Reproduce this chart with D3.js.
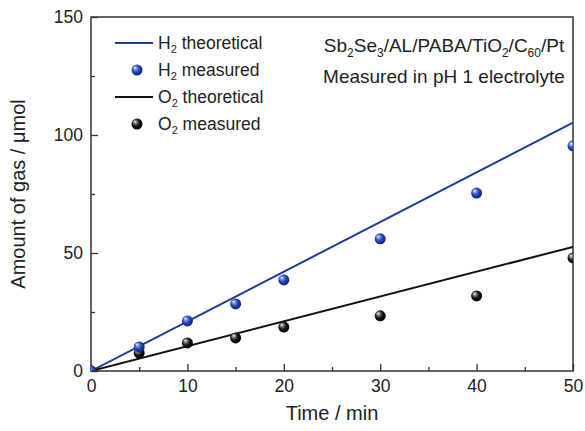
<!DOCTYPE html>
<html>
<head>
<meta charset="utf-8">
<script src="https://cdn.jsdelivr.net/npm/d3@7"></script>
<style>
    html, body { margin: 0; padding: 0; background: #fff; }
    svg { display: block; font-family: "Liberation Sans", Arial, Helvetica, sans-serif; }
</style>
</head>
<body>
<div id="chart"></div>
<script>
// Data
const measuredTime = [0, 5, 10, 15, 20, 30, 40, 50];
const h2Measured = [0, 10.2, 21.2, 28.4, 38.6, 56.0, 75.4, 95.4];
const o2Measured = [0, 7.6, 11.9, 14.0, 18.6, 23.4, 31.8, 47.9];
const theoryTime = [0, 50];
const h2Theoretical = [0, 105.2];
const o2Theoretical = [0, 52.6];

const xTicks = [0, 10, 20, 30, 40, 50];
const xMinorTicks = [5, 15, 25, 35, 45];
const yTicks = [0, 50, 100, 150];
const yMinorTicks = [25, 75, 125];

const legendItems = [
    { gas: "H", rest: " theoretical", type: "line", color: "#1d3c9c" },
    { gas: "H", rest: " measured", type: "dot", fill: "url(#ballBlue)" },
    { gas: "O", rest: " theoretical", type: "line", color: "#111" },
    { gas: "O", rest: " measured", type: "dot", fill: "url(#ballBlack)" }
];

class Chart {
    constructor() {
        const attrs = {
            container: "#chart",
            width: 585,
            height: 431,
            marginTop: 17,
            marginRight: 12,
            marginBottom: 60,
            marginLeft: 91,
            svg: null,
            g: null,
            x: null,
            y: null
        };
        this.getState = () => attrs;
        this.setState = (d) => Object.assign(attrs, d);
    }

    render() {
        this.drawSvg();
        this.setupScales();
        this.drawAxes();
        this.drawSeries();
        this.drawLegend();
        this.drawNotes();
        return this;
    }

    drawSvg() {
        const { container, width, height, marginLeft, marginTop, marginRight, marginBottom } = this.getState();
        const svg = d3.select(container).append("svg")
            .attr("width", width)
            .attr("height", height);

        const defs = svg.append("defs");
        // shaded spheres like the Origin markers
        const addBall = (id, stops) => {
            const grad = defs.append("radialGradient")
                .attr("id", id)
                .attr("cx", "45%").attr("cy", "45%").attr("r", "60%")
                .attr("fx", "30%").attr("fy", "28%");
            stops.forEach(s => grad.append("stop").attr("offset", s[0]).attr("stop-color", s[1]));
        };
        addBall("ballBlue", [["0%", "#ffffff"], ["22%", "#7f9be8"], ["55%", "#1f45b8"], ["100%", "#0b1f70"]]);
        addBall("ballBlack", [["0%", "#ffffff"], ["22%", "#8a8a8a"], ["55%", "#151515"], ["100%", "#000000"]]);

        defs.append("clipPath").attr("id", "plotClip")
            .append("rect")
            .attr("width", width - marginLeft - marginRight)
            .attr("height", height - marginTop - marginBottom);

        const g = svg.append("g").attr("transform", `translate(${marginLeft},${marginTop})`);
        this.setState({ svg, g });
    }

    setupScales() {
        const { width, height, marginLeft, marginTop, marginRight, marginBottom } = this.getState();
        const x = d3.scaleLinear().domain([0, 50]).range([0, width - marginLeft - marginRight]);
        const y = d3.scaleLinear().domain([0, 150]).range([height - marginTop - marginBottom, 0]);
        this.setState({ x, y });
    }

    drawAxes() {
        const { g, x, y } = this.getState();
        const [, w] = x.range();
        const [h] = y.range();

        const styleAxis = (sel) => {
            sel.select(".domain").remove();
            sel.selectAll("line").attr("stroke", "#333").attr("stroke-width", 1.3);
            sel.selectAll("text").attr("fill", "#222").style("font-size", "17.5px").attr("font-family", null);
        };

        // minor ticks
        g.append("g").attr("transform", `translate(0,${h})`)
            .call(d3.axisBottom(x).tickValues(xMinorTicks).tickSize(-4).tickFormat(""))
            .call(styleAxis);
        g.append("g")
            .call(d3.axisLeft(y).tickValues(yMinorTicks).tickSize(-4).tickFormat(""))
            .call(styleAxis);

        // major ticks
        g.append("g").attr("transform", `translate(0,${h})`)
            .call(d3.axisBottom(x).tickValues(xTicks).tickSize(-7).tickPadding(9).tickFormat(d3.format("d")))
            .call(styleAxis);
        g.append("g")
            .call(d3.axisLeft(y).tickValues(yTicks).tickSize(-7).tickPadding(8).tickFormat(d3.format("d")))
            .call(styleAxis);

        // frame
        g.append("rect")
            .attr("width", w).attr("height", h)
            .attr("fill", "none")
            .attr("stroke", "#333")
            .attr("stroke-width", 1.5);

        g.append("text")
            .attr("x", w / 2).attr("y", h + 49)
            .attr("text-anchor", "middle")
            .attr("fill", "#222")
            .style("font-size", "20px")
            .text("Time / min");

        g.append("text")
            .attr("transform", `translate(-66,${h / 2}) rotate(-90)`)
            .attr("text-anchor", "middle")
            .attr("fill", "#222")
            .style("font-size", "20px")
            .text("Amount of gas / \u03bcmol");
    }

    drawSeries() {
        const { g, x, y } = this.getState();
        const plot = g.append("g").attr("clip-path", "url(#plotClip)");

        const line = d3.line().x(d => x(d[0])).y(d => y(d[1]));
        plot.append("path")
            .datum(d3.zip(theoryTime, h2Theoretical))
            .attr("d", line).attr("fill", "none")
            .attr("stroke", "#1d3c9c").attr("stroke-width", 2);
        plot.append("path")
            .datum(d3.zip(theoryTime, o2Theoretical))
            .attr("d", line).attr("fill", "none")
            .attr("stroke", "#111").attr("stroke-width", 2);

        plot.selectAll(".o2dot")
            .data(d3.zip(measuredTime, o2Measured))
            .join("circle").attr("class", "o2dot")
            .attr("cx", d => x(d[0])).attr("cy", d => y(d[1]))
            .attr("r", 5.5).attr("fill", "url(#ballBlack)");
        plot.selectAll(".h2dot")
            .data(d3.zip(measuredTime, h2Measured))
            .join("circle").attr("class", "h2dot")
            .attr("cx", d => x(d[0])).attr("cy", d => y(d[1]))
            .attr("r", 5.5).attr("fill", "url(#ballBlue)");
    }

    drawLegend() {
        const { g } = this.getState();
        const legend = g.append("g").attr("transform", "translate(24,26)");

        const rows = legend.selectAll(".row")
            .data(legendItems)
            .join("g").attr("class", "row")
            .attr("transform", (d, i) => `translate(0,${i * 27})`);

        rows.filter(d => d.type === "line").append("line")
            .attr("x1", 0).attr("x2", 38)
            .attr("stroke", d => d.color).attr("stroke-width", 2);
        rows.filter(d => d.type === "dot").append("circle")
            .attr("cx", 22).attr("r", 5.5)
            .attr("fill", d => d.fill);

        const label = rows.append("text")
            .attr("x", 43).attr("y", 6)
            .attr("fill", "#222")
            .style("font-size", "17.5px");
        label.append("tspan").text(d => d.gas);
        label.append("tspan").attr("dy", 4).style("font-size", "11px").text("2");
        label.append("tspan").attr("dy", -4).text(d => d.rest);
    }

    drawNotes() {
        const { g } = this.getState();
        const cx = 353;

        const t1 = g.append("text")
            .attr("x", cx).attr("y", 35)
            .attr("text-anchor", "middle")
            .attr("fill", "#222")
            .style("font-size", "19px");
        [["Sb", 0], ["2", 1], ["Se", 0], ["3", 1], ["/AL/PABA/TiO", 0], ["2", 1], ["/C", 0], ["60", 1], ["/Pt", 0]]
            .forEach(([txt, sub], i, arr) => {
                const prevSub = i > 0 ? arr[i - 1][1] : 0;
                t1.append("tspan")
                    .attr("dy", sub - prevSub ? (sub ? 5 : -5) : 0)
                    .style("font-size", sub ? "12px" : null)
                    .text(txt);
            });

        g.append("text")
            .attr("x", cx).attr("y", 66)
            .attr("text-anchor", "middle")
            .attr("fill", "#222")
            .style("font-size", "19px")
            .text("Measured in pH 1 electrolyte");
    }
}

new Chart().render();
</script>
</body>
</html>
